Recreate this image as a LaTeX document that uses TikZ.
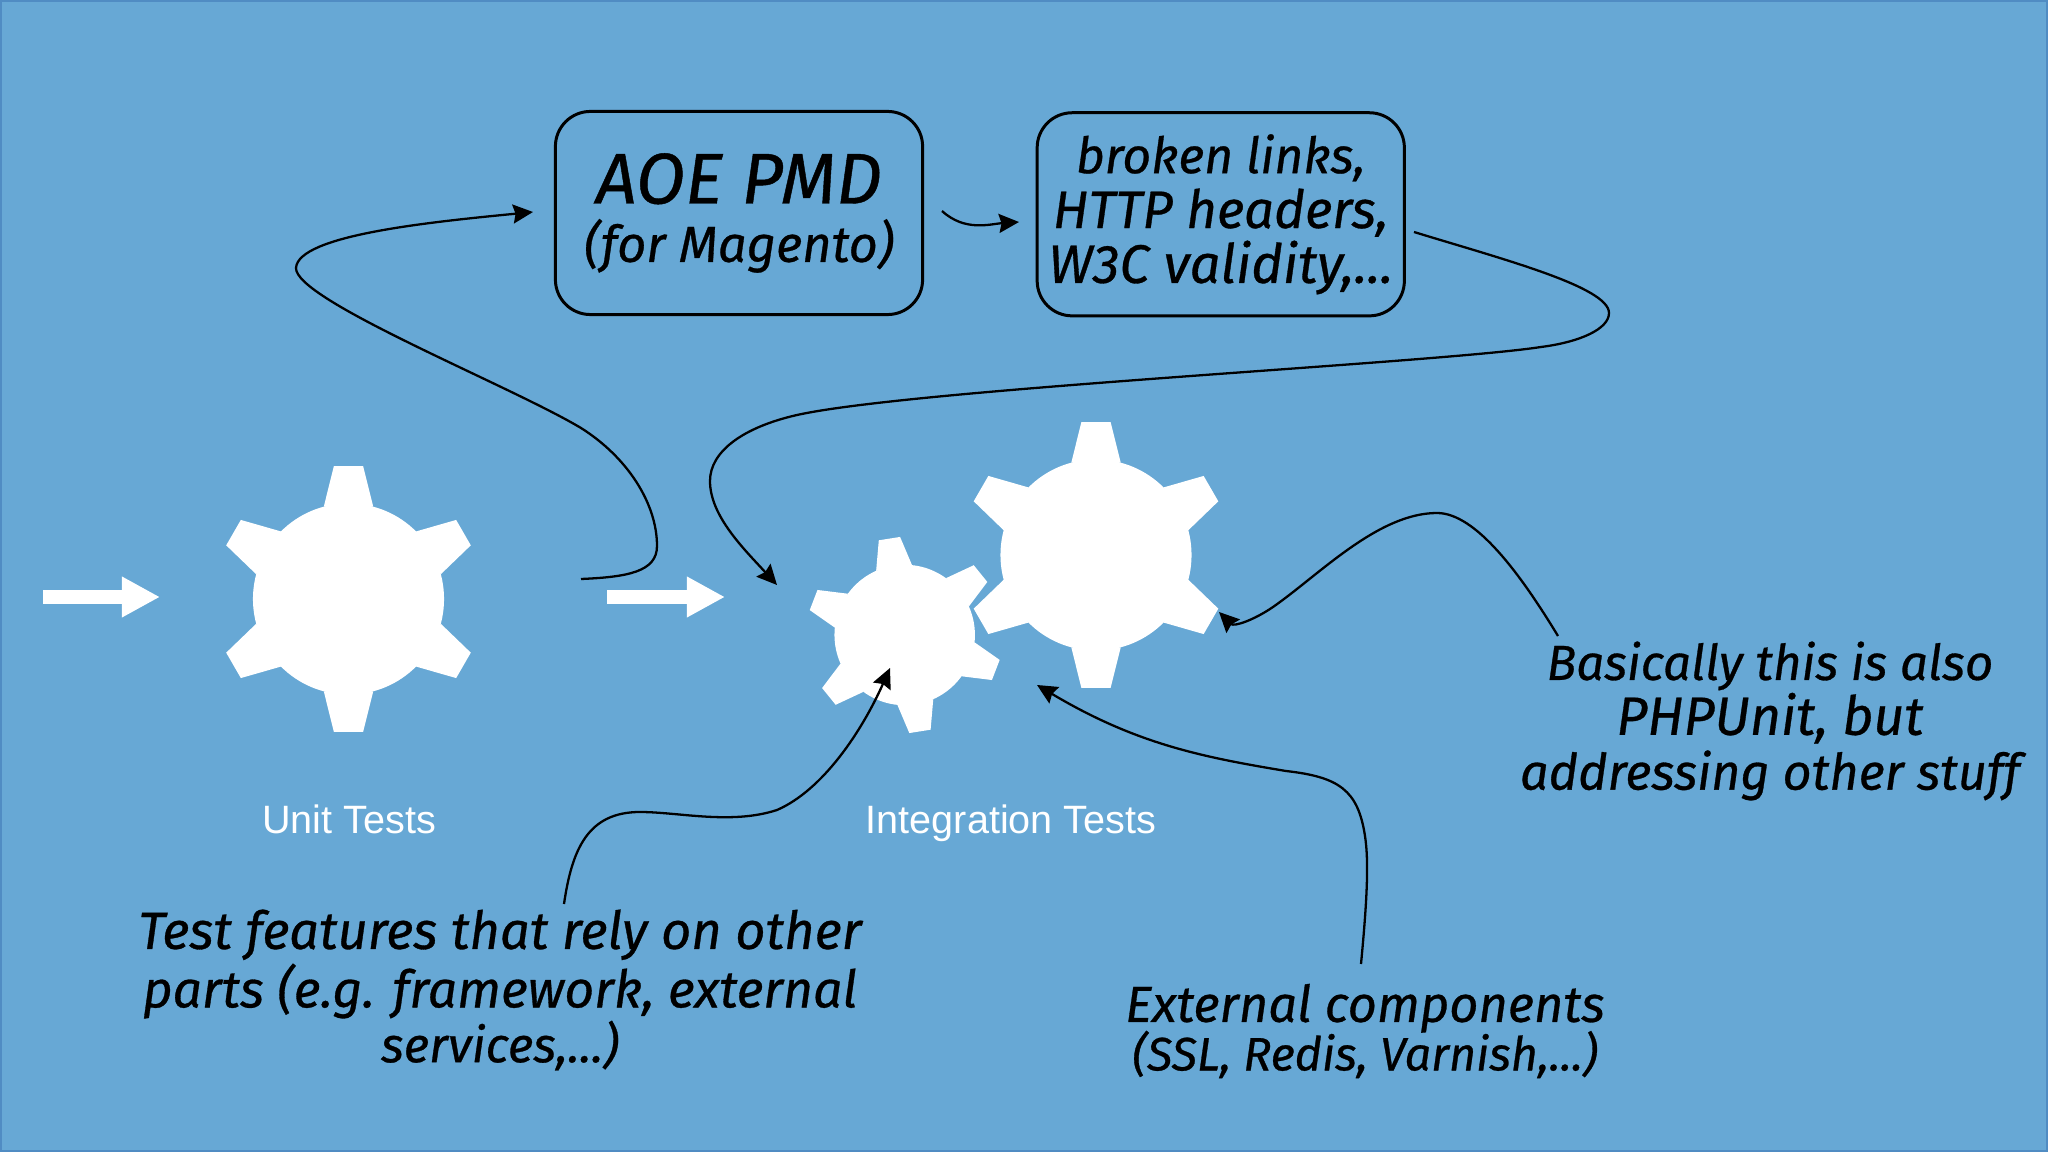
\documentclass[tikz,border=0pt]{standalone}
\usepackage{fontspec}
\setmainfont{Fira Sans}[ItalicFeatures={FakeBold=0.6}]
\newfontfamily\labelfont{Liberation Sans}
\usetikzlibrary{calc, positioning, arrows.meta}
\definecolor{slideblue}{RGB}{103,168,213}
\definecolor{edgeblue}{RGB}{80,140,195}
\newcommand{\handsize}[1]{\fontsize{#1}{15.6}\selectfont}
\newcommand{\drawgear}[3]{
  \begin{scope}[shift={(#1)},scale=#2,rotate=#3]
    \fill[white] (0,0) circle (0.955cm);
    \foreach \a in {30,90,...,330}
      \fill[white] (\a-15:0.955cm) -- (\a-6.3:1.335cm) -- (\a+6.3:1.335cm) -- (\a+15:0.955cm) -- cycle;
  \end{scope}
}

\begin{document}
\begin{tikzpicture}[x=0.01cm, y=-0.01cm, >={Stealth[length=2mm, width=1.9mm, inset=0.25mm]}, every node/.style={align=center}]
  \tikzset{box/.style={draw=black, line width=0.85pt, rounded corners=0.35cm, minimum width=3.67cm, minimum height=2.03cm, inner sep=0pt, font=\itshape\handsize{14}},
    note/.style={text=black, inner sep=0pt, font=\itshape\handsize{14}},
    stage/.style={text=white, inner sep=0pt, anchor=base, font=\labelfont\fontsize{11.25}{13}\selectfont},
    curve/.style={draw=black, line width=0.65pt},
    flow/.style={draw=white, line width=0.14cm, -{Triangle[length=0.38cm, width=0.38cm]}}}
  \useasboundingbox (0,0) rectangle (2048,1152);
  \draw[edgeblue, fill=slideblue, line width=1pt] (0,0) rectangle (2048,1152);

  % gears
  \coordinate (unitgear) at (348.5,599);
  \coordinate (biggear) at (1096,555);
  \coordinate (smallgear) at (904.7,635);
  \drawgear{unitgear}{1}{0}
  \drawgear{biggear}{1}{0}
  \drawgear{smallgear}{0.735}{9}

  \coordinate (in) at (43,597);
  \coordinate (ina) at (160,597);
  \coordinate (out) at (607,597);
  \coordinate (outa) at (725,597);
  \draw[flow] (in) -- (ina);
  \draw[flow] (out) -- (outa);

  \node[stage] (unit) at (349,833) {Unit Tests};
  \node[stage] (integ) at (1011,833) {Integration Tests};

  \node[box] (aoe) at (739,213) {\handsize{20.4}AOE PMD\\[1pt]\handsize{14.4}(for Magento)};
  \node[box, right=1.115cm of aoe, yshift=-0.013cm] (links) {\handsize{14.2}broken links,\\\handsize{15}HTTP headers,\\\handsize{15.4}W3C validity,...};

  \node[note] (features) at (500,990) {\handsize{14.9}Test features that rely on other\\\handsize{14.7}parts (e.g. framework, external\\\handsize{14}services,...)};
  \node[note] (external) at (1365,1031) {\handsize{14.4}External components\\[-1.8pt]\handsize{13.3}(SSL, Redis, Varnish,...)};
  \node[note] (phpunit) at (1770,721) {\handsize{14}Basically this is also\\\handsize{15.3}PHPUnit, but\\\handsize{14.3}addressing other stuff};

  % free ends of the curves
  \coordinate (astart) at (581,579);
  \coordinate (aend) at (533,212);
  \coordinate (bstart) at (942,211);
  \coordinate (bend) at (1019,222);
  \coordinate (cstart) at (1414,232);
  \coordinate (cend) at (777,585);
  \coordinate (dstart) at (564,904);
  \coordinate (dend) at (890,668);
  \coordinate (estart) at (1361,964);
  \coordinate (eend) at (1037,685);
  \coordinate (fstart) at (1558,636);
  \coordinate (fend) at (1219,612);

  \draw[curve, ->] (astart) .. controls (627,577) and (657,572) .. (657,546)
    .. controls (657,503) and (627,457) .. (581,428)
    .. controls (509,385) and (295,300) .. (296,268)
    .. controls (298,235) and (431,222) .. (aend);
  \draw[curve, ->] (bstart) .. controls (965,232) and (990,224) .. (bend);
  \draw[curve, ->] (cstart) .. controls (1502,259) and (1609,287) .. (1609,313)
    .. controls (1609,329) and (1580,342) .. (1541,347)
    .. controls (1437,363) and (914,389) .. (797,415)
    .. controls (744,427) and (710,451) .. (710,481)
    .. controls (710,516) and (744,549) .. (cend);
  \draw[curve, ->] (dstart) .. controls (572,849) and (588,812) .. (640,812)
    .. controls (679,812) and (731,825) .. (777,810)
    .. controls (823,790) and (862,731) .. (dend);
  \draw[curve, ->] (estart) .. controls (1367,901) and (1369,862) .. (1365,836)
    .. controls (1358,790) and (1339,777) .. (1286,771)
    .. controls (1202,757) and (1136,744) .. (eend);
  \draw[curve, ->] (fstart) .. controls (1521,575) and (1476,513) .. (1437,513)
    .. controls (1378,513) and (1319,575) .. (1273,607)
    .. controls (1254,620) and (1234,627) .. (fend);
\end{tikzpicture}
\end{document}
